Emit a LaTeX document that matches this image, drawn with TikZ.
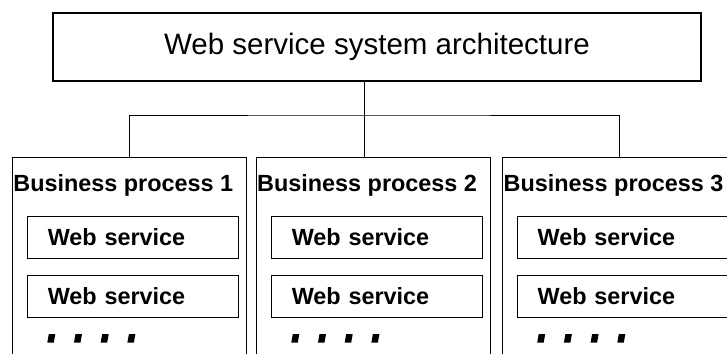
\documentclass[tikz,border=0pt]{standalone}
\usepackage{fontspec}
\setmainfont{Liberation Sans}
\usetikzlibrary{calc}

\tikzset{
  titolo/.style={draw, line width=1.3pt, minimum width=648pt, minimum height=68pt, inner sep=0pt, font=\fontsize{29.5}{35}\selectfont},
  processo/.style={draw, line width=1pt, anchor=north west, minimum width=234.5pt, minimum height=260pt, inner sep=0pt},
  etichetta/.style={anchor=base west, inner sep=0pt, font=\fontsize{23.4}{28}\selectfont\bfseries},
  servizio/.style={draw, line width=1pt, text width=171pt, inner xsep=20pt, inner ysep=0pt, minimum height=42pt, align=left, font=\fontsize{23.4}{28}\selectfont\bfseries},
}

\begin{document}
\begin{tikzpicture}[x=1pt, y=-1pt]
  \clip (0,0) rectangle (727,353);

  % Definizione dei nodi
  \node[titolo] (titolo) at (377,47) {Web service system architecture};
  \node[processo] (bp1) at (11.7,156.5) {};
  \node[processo] (bp2) at (255.5,156.5) {};
  \node[processo] (bp3) at (502,156.5) {};
  \node[etichetta] (bp1t) at ($(bp1.north west)+(1.5,34.5)$) {Business process 1};
  \node[etichetta] (bp2t) at ($(bp2.north west)+(1.5,34.5)$) {Business process 2};
  \node[etichetta] (bp3t) at ($(bp3.north west)+(1.5,34.5)$) {Business process 3};
  \node[servizio] (ws1a) at (133.3,237) {Web service};
  \node[servizio] (ws1b) at (133.3,296) {Web service};
  \node[servizio] (ws2a) at (377.3,237) {Web service};
  \node[servizio] (ws2b) at (377.3,296) {Web service};
  \node[servizio] (ws3a) at (623.2,237) {Web service};
  \node[servizio] (ws3b) at (623.2,296) {Web service};

  % Definizione dei collegamenti
  \coordinate (snodo) at (364,115);
  \draw[line width=1pt] (titolo.south -| snodo) -- (snodo |- bp2.north); % ramo centrale
  \draw[line width=1pt] (bp1.north) |- (snodo) -| (bp3.north); % rami laterali

  % Puntini sotto i servizi
  \foreach \s in {ws1b, ws2b, ws3b}
    \foreach \i in {0,...,3}
      \fill ($(\s.south west)+(20+\i*26.7,25)$) -- ++(6.5,0) -- ++(1.5,-8.5) -- ++(-6.5,0) -- cycle;
\end{tikzpicture}
\end{document}
